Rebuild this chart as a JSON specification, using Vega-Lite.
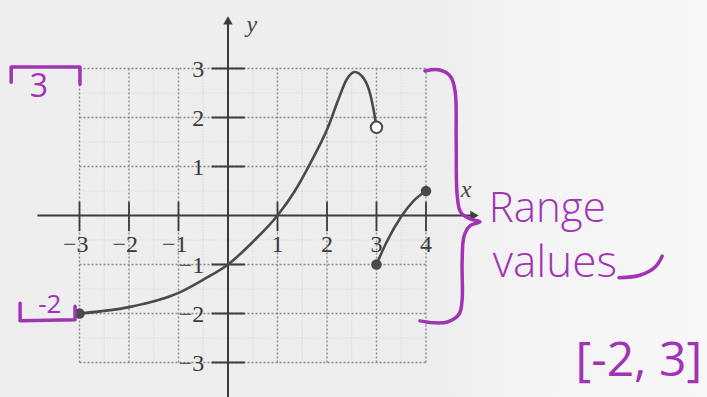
{
  "$schema": "https://vega.github.io/schema/vega-lite/v6.json",
  "width": 707,
  "height": 397,
  "padding": 0,
  "autosize": "none",
  "background": "#f6f6f6",
  "config": {"view": {"stroke": null}},
  "layer": [
    {
      "data": {"values": [{}]},
      "mark": {
        "type": "rect",
        "fill": {"gradient": "linear", "x1": 0, "y1": 0, "x2": 1, "y2": 0, "stops": [
          {"offset": 0, "color": "#eeeeee"},
          {"offset": 0.6, "color": "#ededed"},
          {"offset": 0.75, "color": "#f4f4f4"},
          {"offset": 1, "color": "#f7f7f7"}
        ]}
      },
      "encoding": {
        "x": {"datum": -4.606, "type": "quantitative", "scale": {"domain": [-4.606, 9.677], "nice": false, "zero": false}, "axis": null},
        "x2": {"datum": 9.677},
        "y": {"datum": -3.704, "type": "quantitative", "scale": {"domain": [-3.704, 4.398], "nice": false, "zero": false}, "axis": null},
        "y2": {"datum": 4.398}
      }
    },
    {
      "data": {"values": [{"v": -2.5}, {"v": -1.5}, {"v": -0.5}, {"v": 0.5}, {"v": 1.5}, {"v": 2.5}, {"v": 3.5}]},
      "mark": {"type": "rule", "color": "#d2d2d2", "strokeWidth": 1, "strokeDash": [1, 2]},
      "encoding": {
        "x": {"field": "v", "type": "quantitative", "scale": {"domain": [-4.606, 9.677], "nice": false, "zero": false}, "axis": null},
        "y": {"datum": -3, "type": "quantitative", "scale": {"domain": [-3.704, 4.398], "nice": false, "zero": false}, "axis": null},
        "y2": {"datum": 3}
      }
    },
    {
      "data": {"values": [{"v": -2.5}, {"v": -1.5}, {"v": -0.5}, {"v": 0.5}, {"v": 1.5}, {"v": 2.5}]},
      "mark": {"type": "rule", "color": "#d2d2d2", "strokeWidth": 1, "strokeDash": [1, 2]},
      "encoding": {
        "y": {"field": "v", "type": "quantitative", "scale": {"domain": [-3.704, 4.398], "nice": false, "zero": false}, "axis": null},
        "x": {"datum": -3, "type": "quantitative", "scale": {"domain": [-4.606, 9.677], "nice": false, "zero": false}, "axis": null},
        "x2": {"datum": 4}
      }
    },
    {
      "data": {"values": [{"v": -3}, {"v": -2}, {"v": -1}, {"v": 1}, {"v": 2}, {"v": 3}, {"v": 4}]},
      "mark": {"type": "rule", "color": "#8a8a8a", "strokeWidth": 1.4, "strokeDash": [2, 2]},
      "encoding": {
        "x": {"field": "v", "type": "quantitative", "scale": {"domain": [-4.606, 9.677], "nice": false, "zero": false}, "axis": null},
        "y": {"datum": -3, "type": "quantitative", "scale": {"domain": [-3.704, 4.398], "nice": false, "zero": false}, "axis": null},
        "y2": {"datum": 3}
      }
    },
    {
      "data": {"values": [{"v": -3}, {"v": -2}, {"v": -1}, {"v": 1}, {"v": 2}, {"v": 3}]},
      "mark": {"type": "rule", "color": "#8a8a8a", "strokeWidth": 1.4, "strokeDash": [2, 2]},
      "encoding": {
        "y": {"field": "v", "type": "quantitative", "scale": {"domain": [-3.704, 4.398], "nice": false, "zero": false}, "axis": null},
        "x": {"datum": -3, "type": "quantitative", "scale": {"domain": [-4.606, 9.677], "nice": false, "zero": false}, "axis": null},
        "x2": {"datum": 4}
      }
    },
    {
      "data": {"values": [{}]},
      "mark": {"type": "rule", "color": "#3c3c3c", "strokeWidth": 2},
      "encoding": {
        "x": {"datum": -3.85, "type": "quantitative", "scale": {"domain": [-4.606, 9.677], "nice": false, "zero": false}, "axis": null},
        "x2": {"datum": 4.95},
        "y": {"datum": 0, "type": "quantitative", "scale": {"domain": [-3.704, 4.398], "nice": false, "zero": false}, "axis": null}
      }
    },
    {
      "data": {"values": [{}]},
      "mark": {"type": "rule", "color": "#3c3c3c", "strokeWidth": 2},
      "encoding": {
        "x": {"datum": 0, "type": "quantitative", "scale": {"domain": [-4.606, 9.677], "nice": false, "zero": false}, "axis": null},
        "y": {"datum": -3.75, "type": "quantitative", "scale": {"domain": [-3.704, 4.398], "nice": false, "zero": false}, "axis": null},
        "y2": {"datum": 3.98}
      }
    },
    {
      "data": {"values": [{}]},
      "mark": {"type": "point", "shape": "triangle-right", "filled": true, "color": "#3c3c3c", "size": 90, "opacity": 1},
      "encoding": {
        "x": {"datum": 4.98, "type": "quantitative", "scale": {"domain": [-4.606, 9.677], "nice": false, "zero": false}, "axis": null},
        "y": {"datum": 0, "type": "quantitative", "scale": {"domain": [-3.704, 4.398], "nice": false, "zero": false}, "axis": null}
      }
    },
    {
      "data": {"values": [{}]},
      "mark": {"type": "point", "shape": "triangle-up", "filled": true, "color": "#3c3c3c", "size": 90, "opacity": 1},
      "encoding": {
        "x": {"datum": 0, "type": "quantitative", "scale": {"domain": [-4.606, 9.677], "nice": false, "zero": false}, "axis": null},
        "y": {"datum": 3.98, "type": "quantitative", "scale": {"domain": [-3.704, 4.398], "nice": false, "zero": false}, "axis": null}
      }
    },
    {
      "data": {"values": [{"v": -3}, {"v": -2}, {"v": -1}, {"v": 1}, {"v": 2}, {"v": 3}, {"v": 4}]},
      "mark": {"type": "rule", "color": "#3c3c3c", "strokeWidth": 1.8},
      "encoding": {
        "x": {"field": "v", "type": "quantitative", "scale": {"domain": [-4.606, 9.677], "nice": false, "zero": false}, "axis": null},
        "y": {"datum": -0.32, "type": "quantitative", "scale": {"domain": [-3.704, 4.398], "nice": false, "zero": false}, "axis": null},
        "y2": {"datum": 0.28}
      }
    },
    {
      "data": {"values": [{"v": -3}, {"v": -2}, {"v": -1}, {"v": 1}, {"v": 2}, {"v": 3}]},
      "mark": {"type": "rule", "color": "#3c3c3c", "strokeWidth": 1.8},
      "encoding": {
        "y": {"field": "v", "type": "quantitative", "scale": {"domain": [-3.704, 4.398], "nice": false, "zero": false}, "axis": null},
        "x": {"datum": -0.33, "type": "quantitative", "scale": {"domain": [-4.606, 9.677], "nice": false, "zero": false}, "axis": null},
        "x2": {"datum": 0.34}
      }
    },
    {
      "data": {"values": [{"v": -3, "t": "−3"}, {"v": -2, "t": "−2"}, {"v": -1, "t": "−1"}]},
      "mark": {"type": "text", "font": "Liberation Serif", "fontSize": 24, "color": "#3a3a3a", "align": "right", "baseline": "middle", "dx": 9},
      "encoding": {
        "x": {"field": "v", "type": "quantitative", "scale": {"domain": [-4.606, 9.677], "nice": false, "zero": false}, "axis": null},
        "y": {"datum": -0.6, "type": "quantitative", "scale": {"domain": [-3.704, 4.398], "nice": false, "zero": false}, "axis": null},
        "text": {"field": "t"}
      }
    },
    {
      "data": {"values": [{"v": 1, "t": "1"}, {"v": 2, "t": "2"}, {"v": 3, "t": "3"}, {"v": 4, "t": "4"}]},
      "mark": {"type": "text", "font": "Liberation Serif", "fontSize": 24, "color": "#3a3a3a", "align": "center", "baseline": "middle"},
      "encoding": {
        "x": {"field": "v", "type": "quantitative", "scale": {"domain": [-4.606, 9.677], "nice": false, "zero": false}, "axis": null},
        "y": {"datum": -0.6, "type": "quantitative", "scale": {"domain": [-3.704, 4.398], "nice": false, "zero": false}, "axis": null},
        "text": {"field": "t"}
      }
    },
    {
      "data": {"values": [{"v": -3, "t": "−3"}, {"v": -2, "t": "−2"}, {"v": -1, "t": "−1"}, {"v": 1, "t": "1"}, {"v": 2, "t": "2"}, {"v": 3, "t": "3"}]},
      "mark": {"type": "text", "font": "Liberation Serif", "fontSize": 24, "color": "#3a3a3a", "align": "right", "baseline": "middle", "dy": 1},
      "encoding": {
        "y": {"field": "v", "type": "quantitative", "scale": {"domain": [-3.704, 4.398], "nice": false, "zero": false}, "axis": null},
        "x": {"datum": -0.48, "type": "quantitative", "scale": {"domain": [-4.606, 9.677], "nice": false, "zero": false}, "axis": null},
        "text": {"field": "t"}
      }
    },
    {
      "data": {"values": [{"x": 4.81, "y": 0.52, "t": "x"}, {"x": 0.48, "y": 3.89, "t": "y"}]},
      "mark": {"type": "text", "font": "Liberation Serif", "fontSize": 24, "fontStyle": "italic", "color": "#444444", "align": "center", "baseline": "middle"},
      "encoding": {
        "x": {"field": "x", "type": "quantitative", "scale": {"domain": [-4.606, 9.677], "nice": false, "zero": false}, "axis": null},
        "y": {"field": "y", "type": "quantitative", "scale": {"domain": [-3.704, 4.398], "nice": false, "zero": false}, "axis": null},
        "text": {"field": "t"}
      }
    },
    {
      "data": {"values": [
        {"piece": 1, "x": -3, "y": -2},
        {"piece": 1, "x": -2, "y": -1.87},
        {"piece": 1, "x": -1, "y": -1.58},
        {"piece": 1, "x": -0.5, "y": -1.31},
        {"piece": 1, "x": 0, "y": -1},
        {"piece": 1, "x": 0.5, "y": -0.54},
        {"piece": 1, "x": 1, "y": 0},
        {"piece": 1, "x": 1.35, "y": 0.5},
        {"piece": 1, "x": 1.68, "y": 1.1},
        {"piece": 1, "x": 2.02, "y": 1.8},
        {"piece": 1, "x": 2.22, "y": 2.34},
        {"piece": 1, "x": 2.4, "y": 2.78},
        {"piece": 1, "x": 2.56, "y": 2.93},
        {"piece": 1, "x": 2.74, "y": 2.8},
        {"piece": 1, "x": 2.88, "y": 2.45},
        {"piece": 1, "x": 2.96, "y": 2.05},
        {"piece": 1, "x": 3, "y": 1.8},
        {"piece": 2, "x": 3, "y": -1},
        {"piece": 2, "x": 3.2, "y": -0.55},
        {"piece": 2, "x": 3.5, "y": -0.02},
        {"piece": 2, "x": 3.75, "y": 0.3},
        {"piece": 2, "x": 4, "y": 0.5}
      ]},
      "mark": {"type": "line", "color": "#4a4a4a", "strokeWidth": 2.6, "interpolate": "monotone"},
      "encoding": {
        "x": {"field": "x", "type": "quantitative", "scale": {"domain": [-4.606, 9.677], "nice": false, "zero": false}, "axis": null},
        "y": {"field": "y", "type": "quantitative", "scale": {"domain": [-3.704, 4.398], "nice": false, "zero": false}, "axis": null},
        "detail": {"field": "piece"}
      }
    },
    {
      "data": {"values": [{"x": -3, "y": -2}, {"x": 3, "y": -1}, {"x": 4, "y": 0.5}]},
      "mark": {"type": "point", "shape": "circle", "filled": true, "color": "#4a4a4a", "size": 110, "opacity": 1},
      "encoding": {
        "x": {"field": "x", "type": "quantitative", "scale": {"domain": [-4.606, 9.677], "nice": false, "zero": false}, "axis": null},
        "y": {"field": "y", "type": "quantitative", "scale": {"domain": [-3.704, 4.398], "nice": false, "zero": false}, "axis": null}
      }
    },
    {
      "data": {"values": [{"x": 3, "y": 1.8}]},
      "mark": {"type": "point", "shape": "circle", "filled": true, "fill": "#ffffff", "stroke": "#4a4a4a", "strokeWidth": 2, "size": 130, "opacity": 1},
      "encoding": {
        "x": {"field": "x", "type": "quantitative", "scale": {"domain": [-4.606, 9.677], "nice": false, "zero": false}, "axis": null},
        "y": {"field": "y", "type": "quantitative", "scale": {"domain": [-3.704, 4.398], "nice": false, "zero": false}, "axis": null}
      }
    },
    {
      "data": {"values": [
        {"g": "top", "i": 1, "x": -4.38, "y": 2.72},
        {"g": "top", "i": 2, "x": -4.38, "y": 3.03},
        {"g": "top", "i": 3, "x": -2.99, "y": 3.03},
        {"g": "top", "i": 4, "x": -2.99, "y": 2.68},
        {"g": "low", "i": 1, "x": -4.2, "y": -1.79},
        {"g": "low", "i": 2, "x": -4.2, "y": -2.15},
        {"g": "low", "i": 3, "x": -3.09, "y": -2.13},
        {"g": "low", "i": 4, "x": -3.09, "y": -1.85}
      ]},
      "mark": {"type": "line", "color": "#a034b4", "strokeWidth": 3.5, "strokeCap": "round", "strokeJoin": "round"},
      "encoding": {
        "x": {"field": "x", "type": "quantitative", "scale": {"domain": [-4.606, 9.677], "nice": false, "zero": false}, "axis": null},
        "y": {"field": "y", "type": "quantitative", "scale": {"domain": [-3.704, 4.398], "nice": false, "zero": false}, "axis": null},
        "detail": {"field": "g"},
        "order": {"field": "i"}
      }
    },
    {
      "data": {"values": [
        {"g": "brace", "i": 1, "x": 3.98, "y": 2.95},
        {"g": "brace", "i": 2, "x": 4.28, "y": 2.97},
        {"g": "brace", "i": 3, "x": 4.5, "y": 2.83},
        {"g": "brace", "i": 4, "x": 4.59, "y": 2.52},
        {"g": "brace", "i": 5, "x": 4.61, "y": 1.54},
        {"g": "brace", "i": 6, "x": 4.63, "y": 0.42},
        {"g": "brace", "i": 7, "x": 4.7, "y": 0.07},
        {"g": "brace", "i": 8, "x": 4.89, "y": -0.07},
        {"g": "brace", "i": 9, "x": 5.09, "y": -0.13},
        {"g": "brace", "i": 10, "x": 4.89, "y": -0.21},
        {"g": "brace", "i": 11, "x": 4.77, "y": -0.42},
        {"g": "brace", "i": 12, "x": 4.73, "y": -0.95},
        {"g": "brace", "i": 13, "x": 4.73, "y": -1.72},
        {"g": "brace", "i": 14, "x": 4.67, "y": -2.01},
        {"g": "brace", "i": 15, "x": 4.44, "y": -2.17},
        {"g": "brace", "i": 16, "x": 4.16, "y": -2.19},
        {"g": "brace", "i": 17, "x": 3.88, "y": -2.15},
        {"g": "swoosh", "i": 1, "x": 7.9, "y": -1.27},
        {"g": "swoosh", "i": 2, "x": 8.32, "y": -1.22},
        {"g": "swoosh", "i": 3, "x": 8.63, "y": -1.05},
        {"g": "swoosh", "i": 4, "x": 8.77, "y": -0.83}
      ]},
      "mark": {"type": "line", "color": "#a034b4", "strokeWidth": 3.5, "strokeCap": "round", "strokeJoin": "round", "interpolate": "catmull-rom"},
      "encoding": {
        "x": {"field": "x", "type": "quantitative", "scale": {"domain": [-4.606, 9.677], "nice": false, "zero": false}, "axis": null},
        "y": {"field": "y", "type": "quantitative", "scale": {"domain": [-3.704, 4.398], "nice": false, "zero": false}, "axis": null},
        "detail": {"field": "g"},
        "order": {"field": "i"}
      }
    },
    {
      "data": {"values": [{"x": -3.818, "y": 2.62, "t": "3"}]},
      "mark": {"type": "text", "font": "Open Sans", "fontSize": 32, "color": "#a034b4", "align": "center", "baseline": "middle"},
      "encoding": {
        "x": {"field": "x", "type": "quantitative", "scale": {"domain": [-4.606, 9.677], "nice": false, "zero": false}, "axis": null},
        "y": {"field": "y", "type": "quantitative", "scale": {"domain": [-3.704, 4.398], "nice": false, "zero": false}, "axis": null},
        "text": {"field": "t"}
      }
    },
    {
      "data": {"values": [{"x": -3.6, "y": -1.83, "t": "-2"}]},
      "mark": {"type": "text", "font": "Open Sans", "fontSize": 26, "color": "#a034b4", "align": "center", "baseline": "middle"},
      "encoding": {
        "x": {"field": "x", "type": "quantitative", "scale": {"domain": [-4.606, 9.677], "nice": false, "zero": false}, "axis": null},
        "y": {"field": "y", "type": "quantitative", "scale": {"domain": [-3.704, 4.398], "nice": false, "zero": false}, "axis": null},
        "text": {"field": "t"}
      }
    },
    {
      "data": {"values": [{"x": 5.27, "y": -0.13, "t": "Range"}]},
      "mark": {"type": "text", "font": "Open Sans", "fontSize": 42, "fontWeight": 300, "color": "#a034b4", "align": "left", "baseline": "alphabetic"},
      "encoding": {
        "x": {"field": "x", "type": "quantitative", "scale": {"domain": [-4.606, 9.677], "nice": false, "zero": false}, "axis": null},
        "y": {"field": "y", "type": "quantitative", "scale": {"domain": [-3.704, 4.398], "nice": false, "zero": false}, "axis": null},
        "text": {"field": "t"}
      }
    },
    {
      "data": {"values": [{"x": 5.35, "y": -1.26, "t": "values"}]},
      "mark": {"type": "text", "font": "Open Sans", "fontSize": 44, "fontWeight": 300, "color": "#a034b4", "align": "left", "baseline": "alphabetic"},
      "encoding": {
        "x": {"field": "x", "type": "quantitative", "scale": {"domain": [-4.606, 9.677], "nice": false, "zero": false}, "axis": null},
        "y": {"field": "y", "type": "quantitative", "scale": {"domain": [-3.704, 4.398], "nice": false, "zero": false}, "axis": null},
        "text": {"field": "t"}
      }
    },
    {
      "data": {"values": [{"x": 8.3, "y": -3.28, "t": "[-2, 3]"}]},
      "mark": {"type": "text", "font": "Open Sans", "fontSize": 48, "color": "#a034b4", "align": "center", "baseline": "alphabetic"},
      "encoding": {
        "x": {"field": "x", "type": "quantitative", "scale": {"domain": [-4.606, 9.677], "nice": false, "zero": false}, "axis": null},
        "y": {"field": "y", "type": "quantitative", "scale": {"domain": [-3.704, 4.398], "nice": false, "zero": false}, "axis": null},
        "text": {"field": "t"}
      }
    }
  ]
}
